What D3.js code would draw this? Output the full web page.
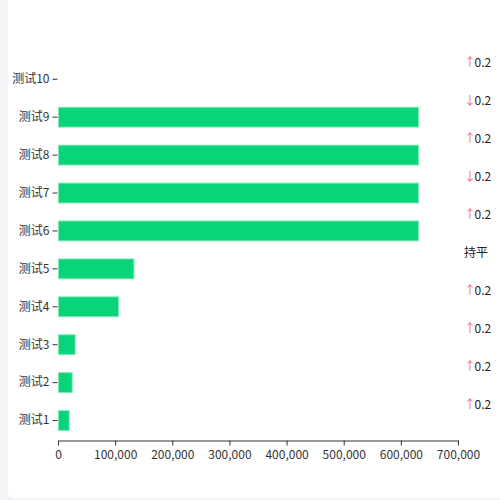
<!DOCTYPE html>
<html><head><meta charset="utf-8">
<script src="https://cdn.jsdelivr.net/npm/d3@7"></script>
<style>
html,body{margin:0;padding:0;background:#f3f3f8;}
svg{display:block;}
</style></head><body>
<svg id="c" width="500" height="500"></svg>
<script>
const categories = ["测试1","测试2","测试3","测试4","测试5","测试6","测试7","测试8","测试9","测试10"];
const values = [18700, 23900, 29200, 105000, 132000, 630000, 630000, 630000, 630000, 0];
const changes = ["up","up","up","up","flat","up","down","up","down","up"];
const changeValues = ["0.2","0.2","0.2","0.2","持平","0.2","0.2","0.2","0.2","0.2"];
const xTicks = [0,100000,200000,300000,400000,500000,600000,700000];

const svg = d3.select("#c");
const font = "'Microsoft YaHei','Noto Sans CJK SC',sans-serif";
svg.append("rect").attr("x",8).attr("y",-10).attr("width",510).attr("height",508).attr("rx",5).attr("fill","#fff");

const x = d3.scaleLinear().domain([0,700000]).range([58,458]);
const y = d3.scaleBand().domain(categories.slice().reverse()).range([60.3,439.5]).paddingInner(0.45).paddingOuter(0.225);

const gx = svg.append("g").attr("transform","translate(0,440.5)")
  .call(d3.axisBottom(x).tickValues(xTicks).tickFormat(d3.format(",")).tickSize(5).tickSizeOuter(0));
gx.selectAll("path,line").attr("stroke","#333");
gx.selectAll("text").attr("fill","#333").style("font-family",font).style("font-size","12px").attr("dy","0.9em");

const gy = svg.append("g").attr("transform","translate(57.5,0)")
  .call(d3.axisLeft(y).tickSize(5).tickPadding(3));
gy.select(".domain").remove();
gy.selectAll("line").attr("stroke","#333");
gy.selectAll("text").attr("fill","#333").style("font-family",font).style("font-size","12px");

svg.append("g").selectAll("rect").data(categories).join("rect")
  .attr("x", x(0)+0.5)
  .attr("y", d=>y(d)+0.5)
  .attr("width", (d,i)=>Math.max(0,x(values[i])-x(0)))
  .attr("height", y.bandwidth()-1)
  .attr("fill","#09d47a")
  .attr("stroke", (d,i)=>values[i]>0?"#7fe8b6":"none")
  .attr("stroke-width",1);

const lab = svg.append("g").selectAll("text").data(categories).join("text")
  .attr("x",464)
  .attr("y", d=>y(d)+y.bandwidth()/2-16)
  .attr("dy","0.35em")
  .style("font-family",font).style("font-size","12px").attr("fill","#222");
lab.each(function(d,i){
  const t = d3.select(this);
  if(changes[i]==="flat"){ t.append("tspan").text(changeValues[i]); }
  else {
    t.append("tspan").attr("fill","#f56c6c").text(changes[i]==="up"?"↑":"↓");
    t.append("tspan").attr("dx",-1.5).text(changeValues[i]);
  }
});
</script></body></html>
